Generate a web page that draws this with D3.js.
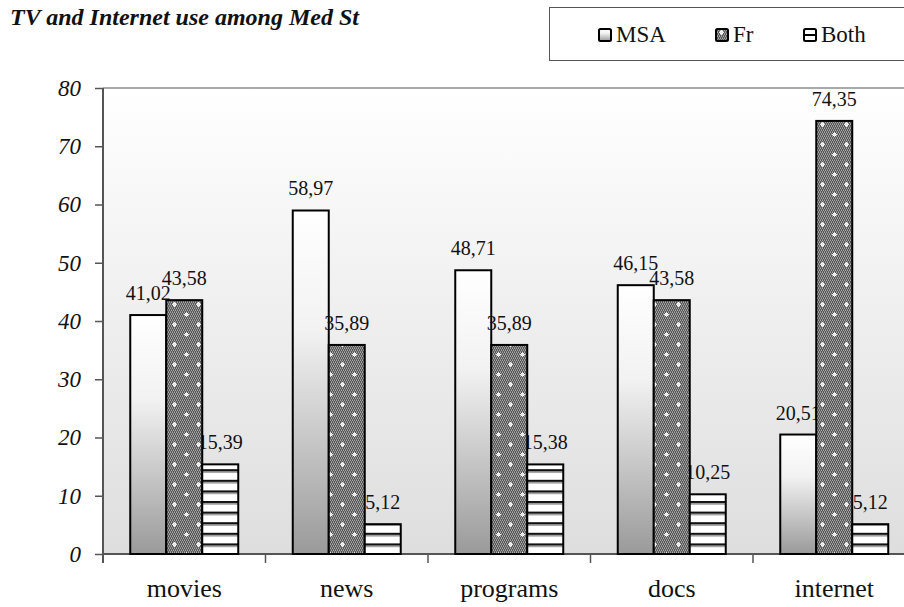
<!DOCTYPE html>
<html>
<head>
<meta charset="utf-8">
<script src="https://cdn.jsdelivr.net/npm/d3@7"></script>
<style>
  html, body { margin: 0; padding: 0; background: #fff; overflow: hidden; }
  svg { display: block; }
  svg text { font-family: "Liberation Serif", "Times New Roman", Times, "DejaVu Serif", serif; }
</style>
</head>
<body>
<svg id="chart" width="904" height="607"></svg>
<script>
// Survey shares (%) per medium and language
const categories = ["movies", "news", "programs", "docs", "internet"];
const seriesNames = ["MSA", "Fr", "Both"];
const msaValues  = [41.02, 58.97, 48.71, 46.15, 20.51];
const frValues   = [43.58, 35.89, 35.89, 43.58, 74.35];
const bothValues = [15.39, 5.12, 15.38, 10.25, 5.12];
const yTicks = [0, 10, 20, 30, 40, 50, 60, 70, 80];
const titleText = "TV and Internet use among Med St";

const seriesValues = { MSA: msaValues, Fr: frValues, Both: bothValues };

const svg = d3.select("#chart");
const defs = svg.append("defs");

// plot frame
const plot = { left: 103, top: 88, bottom: 554, step: 162.5 };
plot.right = plot.left + plot.step * categories.length;

// ---- fills ----
const bgGrad = defs.append("linearGradient").attr("id", "bgGrad")
  .attr("x1", 0).attr("y1", 0).attr("x2", 0).attr("y2", 1);
bgGrad.append("stop").attr("offset", "0%").attr("stop-color", "#ffffff");
bgGrad.append("stop").attr("offset", "100%").attr("stop-color", "#dedede");

const msaGrad = defs.append("linearGradient").attr("id", "msaGrad")
  .attr("x1", 0).attr("y1", 0).attr("x2", 0).attr("y2", 1);
msaGrad.append("stop").attr("offset", "0%").attr("stop-color", "#ffffff");
msaGrad.append("stop").attr("offset", "35%").attr("stop-color", "#f2f2f2");
msaGrad.append("stop").attr("offset", "100%").attr("stop-color", "#9a9a9a");

// fine checker with white sparkles
const frPat = defs.append("pattern").attr("id", "frPat")
  .attr("patternUnits", "userSpaceOnUse").attr("width", 24).attr("height", 20);
frPat.append("rect").attr("width", 24).attr("height", 20).attr("fill", "#555555");
for (let yy = 0; yy < 20; yy += 2) {
  for (let xx = 0; xx < 24; xx += 2) {
    frPat.append("rect").attr("x", xx + (yy % 4 === 0 ? 0 : 1)).attr("y", yy)
      .attr("width", 1).attr("height", 1).attr("fill", "#aaaaaa");
    frPat.append("rect").attr("x", xx + (yy % 4 === 0 ? 1 : 0)).attr("y", yy + 1)
      .attr("width", 1).attr("height", 1).attr("fill", "#8e8e8e");
  }
}
[[6, 4], [18, 14]].forEach(([cx, cy]) => {
  frPat.append("rect").attr("x", cx - 1).attr("y", cy - 1).attr("width", 3).attr("height", 3).attr("fill", "#ffffff");
  frPat.append("rect").attr("x", cx - 2).attr("y", cy).attr("width", 5).attr("height", 1).attr("fill", "#e8e8e8");
  frPat.append("rect").attr("x", cx).attr("y", cy - 2).attr("width", 1).attr("height", 5).attr("fill", "#e8e8e8");
});

// horizontal stripes
const bothPat = defs.append("pattern").attr("id", "bothPat")
  .attr("patternUnits", "userSpaceOnUse").attr("width", 8).attr("height", 10.6)
  .attr("y", plot.bottom);
bothPat.append("rect").attr("width", 8).attr("height", 10.6).attr("fill", "#ffffff");
bothPat.append("rect").attr("y", 0).attr("width", 8).attr("height", 2.2).attr("fill", "#111111");
bothPat.append("rect").attr("y", 2.2).attr("width", 8).attr("height", 1.4).attr("fill", "#8a8a8a");

const fills = { MSA: "url(#msaGrad)", Fr: "url(#frPat)", Both: "url(#bothPat)" };

// ---- scales ----
const x0 = d3.scaleBand().domain(categories).range([plot.left, plot.right]).paddingInner(0).paddingOuter(0);
const x1 = d3.scaleBand().domain(seriesNames).range([0, x0.bandwidth()]).paddingInner(0).paddingOuter(0.757);
const y = d3.scaleLinear().domain([0, 80]).range([plot.bottom, plot.top]);

// ---- plot background ----
svg.append("rect")
  .attr("x", plot.left).attr("y", plot.top)
  .attr("width", plot.right - plot.left).attr("height", plot.bottom - plot.top)
  .attr("fill", "url(#bgGrad)");
svg.append("line")
  .attr("x1", plot.left).attr("x2", plot.right).attr("y1", plot.top).attr("y2", plot.top)
  .attr("stroke", "#8c8c8c").attr("stroke-width", 1.5);

// ---- axes ----
const yAxis = svg.append("g").attr("transform", `translate(${plot.left},0)`)
  .call(d3.axisLeft(y).tickValues(yTicks).tickSize(8).tickPadding(14).tickSizeOuter(0));
yAxis.attr("font-family", null);
yAxis.select(".domain").remove();
yAxis.selectAll(".tick line").attr("stroke", "#555").attr("stroke-width", 1.5);
yAxis.selectAll(".tick text")
  .attr("font-style", "italic")
  .attr("font-size", 23).attr("fill", "#111");

const xAxis = svg.append("g").attr("transform", `translate(0,${plot.bottom})`)
  .call(d3.axisBottom(x0).tickSize(0).tickPadding(25).tickSizeOuter(0));
xAxis.attr("font-family", null);
xAxis.select(".domain").remove();
xAxis.selectAll(".tick text")
  .attr("font-size", 26).attr("fill", "#111");

// category boundary ticks
svg.append("g").selectAll("line")
  .data(categories.concat([null]))
  .join("line")
  .attr("x1", (d, i) => i < categories.length ? x0(d) : x0(categories[i - 1]) + x0.bandwidth())
  .attr("x2", (d, i) => i < categories.length ? x0(d) : x0(categories[i - 1]) + x0.bandwidth())
  .attr("y1", plot.bottom).attr("y2", plot.bottom + 9)
  .attr("stroke", "#555").attr("stroke-width", 1.5);

// axis lines
svg.append("line")
  .attr("x1", plot.left).attr("x2", plot.right).attr("y1", plot.bottom).attr("y2", plot.bottom)
  .attr("stroke", "#555").attr("stroke-width", 2);
svg.append("line")
  .attr("x1", plot.left).attr("x2", plot.left).attr("y1", plot.top).attr("y2", plot.bottom + 9)
  .attr("stroke", "#555").attr("stroke-width", 2);

// ---- bars and labels ----
const fmt = v => d3.format(".2f")(v).replace(".", ",");

function rows(name) {
  return categories.map((c, i) => ({ cat: c, series: name, value: seriesValues[name][i] }));
}

function drawBars(name) {
  svg.append("g").selectAll("rect")
    .data(rows(name))
    .join("rect")
    .attr("x", d => x0(d.cat) + x1(d.series))
    .attr("y", d => y(d.value))
    .attr("width", x1.bandwidth())
    .attr("height", d => y(0) - y(d.value))
    .attr("fill", fills[name])
    .attr("stroke", "#000").attr("stroke-width", 2);
}

function drawLabels(name) {
  svg.append("g").selectAll("text")
    .data(rows(name))
    .join("text")
    .attr("x", d => x0(d.cat) + x1(d.series) + x1.bandwidth() / 2)
    .attr("y", d => y(d.value) - 15)
    .attr("text-anchor", "middle")
    .attr("font-size", 20).attr("fill", "#111")
    .text(d => fmt(d.value));
}

drawBars("MSA");
drawLabels("MSA");
drawLabels("Both");
drawBars("Fr");
drawLabels("Fr");
drawBars("Both");

// ---- title ----
svg.append("text")
  .attr("x", 10).attr("y", 25)
  .attr("font-size", 24).attr("font-weight", "bold").attr("font-style", "italic")
  .attr("fill", "#111")
  .text(titleText);

// ---- legend ----
const legend = svg.append("g");
legend.append("rect")
  .attr("x", 549.5).attr("y", 7.5).attr("width", 380).attr("height", 53)
  .attr("fill", "#fff").attr("stroke", "#555").attr("stroke-width", 1);
const legendX = { MSA: 598, Fr: 715, Both: 803 };
seriesNames.forEach(name => {
  const g = legend.append("g").attr("transform", `translate(${legendX[name]},28)`);
  g.append("rect").attr("x", 1).attr("y", 1).attr("width", 12).attr("height", 12)
    .attr("fill", name === "Both" ? "#fff" : fills[name])
    .attr("stroke", "#000").attr("stroke-width", 2).attr("rx", 1.5);
  if (name === "Both") {
    g.append("line").attr("x1", 1).attr("x2", 13).attr("y1", 7).attr("y2", 7)
      .attr("stroke", "#000").attr("stroke-width", 2);
  }
  g.append("text").attr("x", 18).attr("y", 14)
    .attr("font-size", 23).attr("fill", "#111").text(name);
});
</script>
</body>
</html>
